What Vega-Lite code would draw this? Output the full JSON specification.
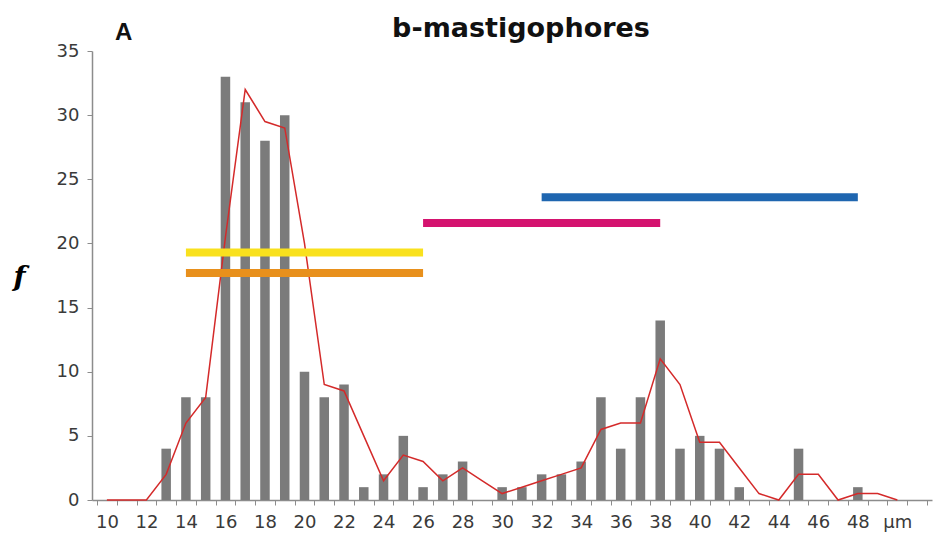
{
  "$schema": "https://vega.github.io/schema/vega-lite/v6.json",
  "autosize": {"type": "none"},
  "width": 840,
  "height": 449,
  "padding": {"left": 92, "top": 51, "right": 3, "bottom": 39},
  "background": "white",
  "config": {"view": {"stroke": null}},
  "title": {
    "text": "b-mastigophores",
    "font": "DejaVu Sans",
    "fontWeight": "bold",
    "fontSize": 27,
    "color": "#111111",
    "anchor": "middle",
    "dx": 9,
    "dy": 60,
    "baseline": "alphabetic",
    "offset": 17
  },
  "datasets": {
    "bars": [
      {"um": 13, "f": 4}, {"um": 14, "f": 8}, {"um": 15, "f": 8}, {"um": 16, "f": 33},
      {"um": 17, "f": 31}, {"um": 18, "f": 28}, {"um": 19, "f": 30}, {"um": 20, "f": 10},
      {"um": 21, "f": 8}, {"um": 22, "f": 9}, {"um": 23, "f": 1}, {"um": 24, "f": 2},
      {"um": 25, "f": 5}, {"um": 26, "f": 1}, {"um": 27, "f": 2}, {"um": 28, "f": 3},
      {"um": 30, "f": 1}, {"um": 31, "f": 1}, {"um": 32, "f": 2}, {"um": 33, "f": 2},
      {"um": 34, "f": 3}, {"um": 35, "f": 8}, {"um": 36, "f": 4}, {"um": 37, "f": 8},
      {"um": 38, "f": 14}, {"um": 39, "f": 4}, {"um": 40, "f": 5}, {"um": 41, "f": 4},
      {"um": 42, "f": 1}, {"um": 45, "f": 4}, {"um": 48, "f": 1}
    ],
    "trend": [
      {"um": 10, "f": 0}, {"um": 11, "f": 0}, {"um": 12, "f": 0}, {"um": 13, "f": 2},
      {"um": 14, "f": 6}, {"um": 15, "f": 8}, {"um": 16, "f": 20.5}, {"um": 17, "f": 32},
      {"um": 18, "f": 29.5}, {"um": 19, "f": 29}, {"um": 20, "f": 20}, {"um": 21, "f": 9},
      {"um": 22, "f": 8.5}, {"um": 23, "f": 5}, {"um": 24, "f": 1.5}, {"um": 25, "f": 3.5},
      {"um": 26, "f": 3}, {"um": 27, "f": 1.5}, {"um": 28, "f": 2.5}, {"um": 29, "f": 1.5},
      {"um": 30, "f": 0.5}, {"um": 31, "f": 1}, {"um": 32, "f": 1.5}, {"um": 33, "f": 2},
      {"um": 34, "f": 2.5}, {"um": 35, "f": 5.5}, {"um": 36, "f": 6}, {"um": 37, "f": 6},
      {"um": 38, "f": 11}, {"um": 39, "f": 9}, {"um": 40, "f": 4.5}, {"um": 41, "f": 4.5},
      {"um": 42, "f": 2.5}, {"um": 43, "f": 0.5}, {"um": 44, "f": 0}, {"um": 45, "f": 2},
      {"um": 46, "f": 2}, {"um": 47, "f": 0}, {"um": 48, "f": 0.5}, {"um": 49, "f": 0.5},
      {"um": 50, "f": 0}
    ],
    "ranges": [
      {"name": "blue", "start": 32, "end": 48, "level": 23.6},
      {"name": "magenta", "start": 26, "end": 38, "level": 21.6},
      {"name": "yellow", "start": 14, "end": 26, "level": 19.3},
      {"name": "orange", "start": 14, "end": 26, "level": 17.7}
    ],
    "panel": [{"label": "A", "um": 10.85, "f": 36.4}]
  },
  "resolve": {"axis": {"x": "independent"}},
  "layer": [
    {
      "data": {"name": "bars"},
      "mark": {"type": "bar", "size": 9.5, "color": "#7b7b7b"},
      "encoding": {
        "x": {
          "field": "um", "type": "quantitative",
          "scale": {"domain": [9.5, 51.5], "nice": false, "zero": false},
          "axis": {
            "orient": "bottom",
            "values": [10, 12, 14, 16, 18, 20, 22, 24, 26, 28, 30, 32, 34, 36, 38, 40, 42, 44, 46, 48, 50],
            "labelExpr": "datum.value == 50 ? 'µm' : datum.label",
            "ticks": false,
            "domain": false,
            "grid": false,
            "title": null,
            "labelFont": "DejaVu Sans",
            "labelFontSize": 18,
            "labelColor": "#3a3a3a",
            "labelPadding": 13,
            "labelOverlap": false,
            "labelFlush": false
          }
        },
        "y": {
          "field": "f", "type": "quantitative",
          "scale": {"domain": [0, 35], "nice": false},
          "axis": {
            "values": [0, 5, 10, 15, 20, 25, 30, 35],
            "grid": false,
            "domainColor": "#8c8c8c",
            "domainWidth": 1.5,
            "tickColor": "#8c8c8c",
            "tickSize": 5,
            "labelFont": "DejaVu Sans",
            "labelFontSize": 18,
            "labelColor": "#3a3a3a",
            "labelPadding": 8,
            "title": "f",
            "titleFont": "DejaVu Serif",
            "titleFontStyle": "italic",
            "titleFontWeight": "bold",
            "titleFontSize": 28,
            "titleColor": "#000000",
            "titleAngle": 0,
            "titleAlign": "center",
            "titleBaseline": "middle",
            "titleX": -73,
            "titleY": 226
          }
        }
      }
    },
    {
      "data": {"name": "trend"},
      "mark": {"type": "line", "color": "#d42a2a", "strokeWidth": 1.5},
      "encoding": {
        "x": {
          "field": "um", "type": "quantitative",
          "axis": {
            "orient": "bottom",
            "values": [9.5, 10.5, 11.5, 12.5, 13.5, 14.5, 15.5, 16.5, 17.5, 18.5, 19.5, 20.5, 21.5, 22.5, 23.5, 24.5, 25.5, 26.5, 27.5, 28.5, 29.5, 30.5, 31.5, 32.5, 33.5, 34.5, 35.5, 36.5, 37.5, 38.5, 39.5, 40.5, 41.5, 42.5, 43.5, 44.5, 45.5, 46.5, 47.5, 48.5, 49.5, 50.5, 51.5],
            "labels": false,
            "grid": false,
            "title": null,
            "domainColor": "#8c8c8c",
            "domainWidth": 1.5,
            "tickColor": "#8c8c8c",
            "tickSize": 5
          }
        },
        "y": {"field": "f", "type": "quantitative"}
      }
    },
    {
      "data": {"name": "ranges"},
      "mark": {"type": "rule", "strokeWidth": 8},
      "encoding": {
        "x": {"field": "start", "type": "quantitative", "axis": null},
        "x2": {"field": "end"},
        "y": {"field": "level", "type": "quantitative"},
        "color": {
          "field": "name", "type": "nominal", "legend": null,
          "scale": {
            "domain": ["blue", "magenta", "yellow", "orange"],
            "range": ["#1f66b0", "#d4136f", "#f9e11e", "#e8901c"]
          }
        }
      }
    },
    {
      "data": {"name": "panel"},
      "mark": {"type": "text", "font": "Liberation Sans", "fontWeight": "bold", "fontSize": 24, "color": "#111111", "align": "center", "baseline": "middle"},
      "encoding": {
        "text": {"field": "label"},
        "x": {"field": "um", "type": "quantitative", "axis": null},
        "y": {"field": "f", "type": "quantitative"}
      }
    }
  ]
}
